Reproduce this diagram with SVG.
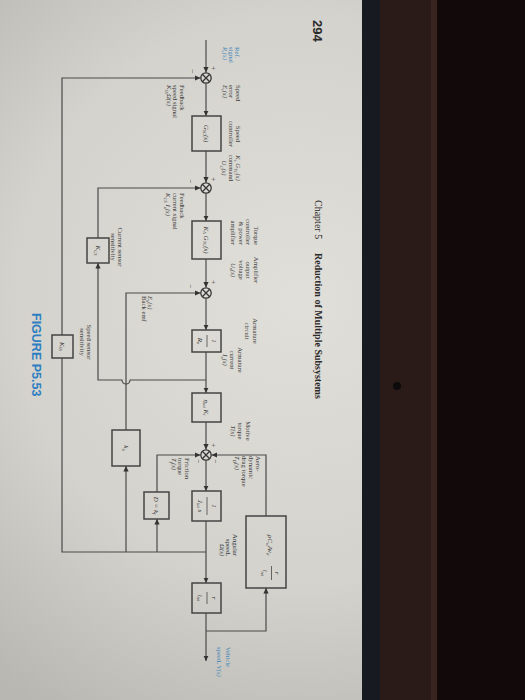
<svg xmlns="http://www.w3.org/2000/svg" width="525" height="700" viewBox="0 0 525 700">
<defs>
<radialGradient id="pg" cx="300" cy="300" r="480" gradientUnits="userSpaceOnUse">
<stop offset="0" stop-color="#e1dfda"/><stop offset="0.6" stop-color="#d4d2cc"/><stop offset="1" stop-color="#b9b7b1"/>
</radialGradient>
<marker id="ah" markerWidth="7" markerHeight="6" refX="5.5" refY="3" orient="auto" markerUnits="userSpaceOnUse"><path d="M0,0.4 L5.5,3 L0,5.6 z" fill="#333"/></marker>
<style>
.wire{fill:none;stroke:#4a4a4a;stroke-width:1.2}
.box{fill:none;stroke:#444;stroke-width:1.5}
.sum{fill:none;stroke:#363636;stroke-width:1.3}
.lbl{font-family:"Liberation Serif",serif;font-size:6.7px;fill:#3c3c3c}
.m{font-family:"Liberation Serif",serif;font-style:italic;font-size:7px;fill:#333}
.blue{fill:#3f86b8}
.sg{font-family:"Liberation Serif",serif;font-size:7.5px;fill:#333}
</style>
</defs>
<rect x="0" y="0" width="362" height="700" fill="url(#pg)"/>
<rect x="362" y="0" width="18" height="700" fill="#181a21"/>
<rect x="380" y="0" width="51" height="700" fill="#2a1b18"/>
<rect x="431" y="0" width="6" height="700" fill="#3a2420"/>
<rect x="437" y="0" width="88" height="700" fill="#120a0a"/>
<circle cx="397" cy="386" r="4" fill="#0c0a0a"/>

<g id="page-text">
<text transform="translate(312.5,20) rotate(90)" font-family="Liberation Sans,sans-serif" font-weight="bold" font-size="13" fill="#2a2a2a">294</text>
<text transform="translate(314.7,200) rotate(90)" font-family="Liberation Serif,serif" font-size="10" fill="#2a2a2a">Chapter 5</text>
<text transform="translate(314.7,253) rotate(90)" font-family="Liberation Serif,serif" font-weight="bold" font-size="10" fill="#2a2a2a">Reduction of Multiple Subsystems</text>
<text transform="translate(31.5,313) rotate(90)" font-family="Liberation Sans,sans-serif" font-weight="bold" font-size="12.5" fill="#2d7fc1">FIGURE P5.53</text>
</g>

<g id="connectors">
<path class="wire" d="M206,40 V72.5" marker-end="url(#ah)"/>
<path class="wire" d="M206,552 H62 V358"/>
<path class="wire" d="M62,335 V78 H200.5" marker-end="url(#ah)"/>
<path class="wire" d="M206,83.5 V116" marker-end="url(#ah)"/>
<path class="wire" d="M206,151 V182.5" marker-end="url(#ah)"/>
<path class="wire" d="M206,380 H130 a4,4 0 0 1 -8,0 H98 V263" marker-end="url(#ah)"/>
<path class="wire" d="M98,238 V188 H200.5" marker-end="url(#ah)"/>
<path class="wire" d="M206,193.5 V221" marker-end="url(#ah)"/>
<path class="wire" d="M206,259 V287.5" marker-end="url(#ah)"/>
<path class="wire" d="M126,552 V466" marker-end="url(#ah)"/>
<path class="wire" d="M126,430 V293 H200.5" marker-end="url(#ah)"/>
<path class="wire" d="M206,298.5 V330" marker-end="url(#ah)"/>
<path class="wire" d="M206,352 V393" marker-end="url(#ah)"/>
<path class="wire" d="M206,422 V449.5" marker-end="url(#ah)"/>
<path class="wire" d="M157,552 V519" marker-end="url(#ah)"/>
<path class="wire" d="M157,492 V455 H200.5" marker-end="url(#ah)"/>
<path class="wire" d="M206,460.5 V491" marker-end="url(#ah)"/>
<path class="wire" d="M206,521 V583" marker-end="url(#ah)"/>
<path class="wire" d="M206,613 V661" marker-end="url(#ah)"/>
<path class="wire" d="M206,631 H266 V588" marker-end="url(#ah)"/>
<path class="wire" d="M266,516 V455 H211.5" marker-end="url(#ah)"/>
</g>

<g id="sum1">
<circle class="sum" cx="206" cy="78" r="5.2"/><path class="sum" d="M202.3,74.3 L209.7,81.7 M209.7,74.3 L202.3,81.7"/>
<text class="sg" transform="translate(211,66) rotate(90)">+</text>
<text class="sg" transform="translate(190,69) rotate(90)">−</text>
</g>
<g id="sum2">
<circle class="sum" cx="206" cy="188" r="5.2"/><path class="sum" d="M202.3,184.3 L209.7,191.7 M209.7,184.3 L202.3,191.7"/>
<text class="sg" transform="translate(211,177) rotate(90)">+</text>
<text class="sg" transform="translate(188,179) rotate(90)">−</text>
</g>
<g id="sum3">
<circle class="sum" cx="206" cy="293" r="5.2"/><path class="sum" d="M202.3,289.3 L209.7,296.7 M209.7,289.3 L202.3,296.7"/>
<text class="sg" transform="translate(211,280) rotate(90)">+</text>
<text class="sg" transform="translate(188,284) rotate(90)">−</text>
</g>
<g id="sum4">
<circle class="sum" cx="206" cy="455" r="5.2"/><path class="sum" d="M202.3,451.3 L209.7,458.7 M209.7,451.3 L202.3,458.7"/>
<text class="sg" transform="translate(211,443) rotate(90)">+</text>
<text class="sg" transform="translate(196,459) rotate(90)">−</text>
<text class="sg" transform="translate(213,459) rotate(90)">−</text>
</g>

<g id="Gsc">
<rect class="box" x="192" y="116" width="29" height="35"/>
<text class="m" transform="translate(204.2,133.5) rotate(90)" text-anchor="middle">G<tspan font-size="4.5" dy="1.5">SC</tspan><tspan dy="-1.5">(s)</tspan></text>
</g>
<g id="KaGtc">
<rect class="box" x="192" y="221" width="29" height="38"/>
<text class="m" transform="translate(204.2,240) rotate(90)" text-anchor="middle">K<tspan font-size="4.5" dy="1.5">A</tspan><tspan dy="-1.5"> G</tspan><tspan font-size="4.5" dy="1.5">TC</tspan><tspan dy="-1.5">(s)</tspan></text>
</g>
<g id="Ra">
<rect class="box" x="192" y="330" width="29" height="22"/>
<text class="m" transform="translate(211.5,341) rotate(90)" text-anchor="middle" font-style="normal">1</text>
<line x1="207" y1="335" x2="207" y2="347" stroke="#333" stroke-width="0.7"/>
<text class="m" transform="translate(198,341) rotate(90)" text-anchor="middle">R<tspan font-size="4.5" dy="1.5">a</tspan></text>
</g>
<g id="etaKt">
<rect class="box" x="192" y="393" width="29" height="29"/>
<text class="m" transform="translate(204.2,407.5) rotate(90)" text-anchor="middle">η<tspan font-size="4.5" dy="1.5">tot</tspan><tspan dy="-1.5"> K</tspan><tspan font-size="4.5" dy="1.5">t</tspan></text>
</g>
<g id="Js">
<rect class="box" x="192" y="491" width="29" height="30"/>
<text class="m" transform="translate(211.5,506) rotate(90)" text-anchor="middle" font-style="normal">1</text>
<line x1="207" y1="497" x2="207" y2="515" stroke="#333" stroke-width="0.7"/>
<text class="m" transform="translate(198,506) rotate(90)" text-anchor="middle">J<tspan font-size="4.5" dy="1.5">tot</tspan><tspan dy="-1.5"> s</tspan></text>
</g>
<g id="rItot">
<rect class="box" x="192" y="583" width="29" height="30"/>
<text class="m" transform="translate(211.5,598) rotate(90)" text-anchor="middle">r</text>
<line x1="207" y1="592" x2="207" y2="604" stroke="#333" stroke-width="0.7"/>
<text class="m" transform="translate(198,598) rotate(90)" text-anchor="middle">i<tspan font-size="4.5" dy="1.5">tot</tspan></text>
</g>
<g id="aero">
<rect class="box" x="246" y="516" width="40" height="72"/>
<text class="m" transform="translate(267.5,545) rotate(90)" text-anchor="middle">ρC<tspan font-size="4.5" dy="1.5">w</tspan><tspan dy="-1.5">Av</tspan><tspan font-size="4.5" dy="1.5">0</tspan></text>
<text class="m" transform="translate(274.5,573) rotate(90)" text-anchor="middle">r</text>
<line x1="271.5" y1="566" x2="271.5" y2="580" stroke="#333" stroke-width="0.7"/>
<text class="m" transform="translate(262.5,573) rotate(90)" text-anchor="middle">i<tspan font-size="4.5" dy="1.5">tot</tspan></text>
</g>
<g id="Dkf">
<rect class="box" x="144" y="492" width="25" height="27"/>
<text class="m" transform="translate(154.3,505.5) rotate(90)" text-anchor="middle">D = k<tspan font-size="4.5" dy="1.5">f</tspan></text>
</g>
<g id="kb">
<rect class="box" x="112" y="430" width="28" height="36"/>
<text class="m" transform="translate(123.8,448) rotate(90)" text-anchor="middle">k<tspan font-size="4.5" dy="1.5">b</tspan></text>
</g>
<g id="Kcs">
<rect class="box" x="87" y="238" width="22" height="25"/>
<text class="m" transform="translate(95.8,250.5) rotate(90)" text-anchor="middle">K<tspan font-size="4.5" dy="1.5">CS</tspan></text>
</g>
<g id="Kss">
<rect class="box" x="52" y="335" width="21" height="23"/>
<text class="m" transform="translate(60.3,346.5) rotate(90)" text-anchor="middle">K<tspan font-size="4.5" dy="1.5">SS</tspan></text>
</g>

<g id="labels">
<text class="lbl blue" transform="translate(234.8,47) rotate(90)"><tspan x="0" y="0">Ref.</tspan><tspan x="0" y="6">signal</tspan><tspan x="0" y="12" font-style="italic">R<tspan font-size="4.5" dy="1.5">r</tspan><tspan dy="-1.5">(s)</tspan></tspan></text>
<text class="lbl" transform="translate(235.8,85) rotate(90)"><tspan x="0" y="0">Speed</tspan><tspan x="0" y="6.5">error</tspan><tspan x="0" y="13" font-style="italic">E<tspan font-size="4.5" dy="1.5">r</tspan><tspan dy="-1.5">(s)</tspan></tspan></text>
<text class="lbl" transform="translate(179.8,85) rotate(90)"><tspan x="0" y="0">Feedback</tspan><tspan x="0" y="6.5">speed signal</tspan><tspan x="0" y="13" font-style="italic">K<tspan font-size="4.5" dy="1.5">SS</tspan><tspan dy="-1.5">Ω(s)</tspan></tspan></text>
<text class="lbl" transform="translate(235.8,134) rotate(90)" text-anchor="middle"><tspan x="0" y="0">Speed</tspan><tspan x="0" y="7">controller</tspan></text>
<text class="lbl" transform="translate(235.8,168) rotate(90)" text-anchor="middle"><tspan x="0" y="0" font-style="italic">K<tspan font-size="4.5" dy="1.5">s</tspan><tspan dy="-1.5"> G</tspan><tspan font-size="4.5" dy="1.5">TC</tspan><tspan dy="-1.5">(s)</tspan></tspan><tspan x="0" y="7">command</tspan><tspan x="0" y="14" font-style="italic">U<tspan font-size="4.5" dy="1.5">C</tspan><tspan dy="-1.5">(s)</tspan></tspan></text>
<text class="lbl" transform="translate(179.8,193) rotate(90)"><tspan x="0" y="0">Feedback</tspan><tspan x="0" y="7">current signal</tspan><tspan x="0" y="14" font-style="italic">K<tspan font-size="4.5" dy="1.5">CS</tspan><tspan dy="-1.5"> I</tspan><tspan font-size="4.5" dy="1.5">a</tspan><tspan dy="-1.5">(s)</tspan></tspan></text>
<text class="lbl" transform="translate(253.8,245) rotate(90)" text-anchor="end"><tspan x="0" y="0">Torque</tspan><tspan x="0" y="7.6">controller</tspan><tspan x="0" y="15.2">&amp; power</tspan><tspan x="0" y="22.8">amplifier</tspan></text>
<text class="lbl" transform="translate(253.8,270) rotate(90)" text-anchor="middle"><tspan x="0" y="0">Amplifier</tspan><tspan x="0" y="7.6">output</tspan><tspan x="0" y="15.2">voltage</tspan><tspan x="0" y="22.8" font-style="italic">U<tspan font-size="4.5" dy="1.5">a</tspan><tspan dy="-1.5">(s)</tspan></tspan></text>
<text class="lbl" transform="translate(147.8,296) rotate(90)"><tspan x="0" y="0" font-style="italic">E<tspan font-size="4.5" dy="1.5">b</tspan><tspan dy="-1.5">(s)</tspan></tspan><tspan x="0" y="6">Back emf</tspan></text>
<text class="lbl" transform="translate(252.8,331) rotate(90)" text-anchor="middle"><tspan x="0" y="0">Armature</tspan><tspan x="0" y="7.5">circuit</tspan></text>
<text class="lbl" transform="translate(237.8,360) rotate(90)" text-anchor="middle"><tspan x="0" y="0">Armature</tspan><tspan x="0" y="7.5">current</tspan><tspan x="0" y="15" font-style="italic">I<tspan font-size="4.5" dy="1.5">a</tspan><tspan dy="-1.5">(s)</tspan></tspan></text>
<text class="lbl" transform="translate(245.8,431) rotate(90)" text-anchor="middle"><tspan x="0" y="0">Motive</tspan><tspan x="0" y="7.5">torque</tspan><tspan x="0" y="15" font-style="italic">T(s)</tspan></text>
<text class="lbl" transform="translate(255.8,456) rotate(90)"><tspan x="0" y="0">Aero-</tspan><tspan x="0" y="7">dynamic</tspan><tspan x="0" y="14">drag torque</tspan><tspan x="0" y="21" font-style="italic">T<tspan font-size="4.5" dy="1.5">D</tspan><tspan dy="-1.5">(s)</tspan></tspan></text>
<text class="lbl" transform="translate(184.8,458) rotate(90)"><tspan x="0" y="0">Friction</tspan><tspan x="0" y="6.5">torque</tspan><tspan x="0" y="13" font-style="italic">T<tspan font-size="4.5" dy="1.5">f</tspan><tspan dy="-1.5">(s)</tspan></tspan></text>
<text class="lbl" transform="translate(232.8,556) rotate(90)" text-anchor="end" style="fill:#2b3340"><tspan x="0" y="0">Angular</tspan><tspan x="0" y="6.5">speed,</tspan><tspan x="0" y="13" font-style="italic">Ω(s)</tspan></text>
<text class="lbl blue" transform="translate(225.8,647) rotate(90)"><tspan x="0" y="0">Vehicle</tspan><tspan x="0" y="8.5">speed, <tspan font-style="italic">V(s)</tspan></tspan></text>
<text class="lbl" transform="translate(86.8,342) rotate(90)" text-anchor="middle"><tspan x="0" y="0">Speed sensor</tspan><tspan x="0" y="7">sensitivity</tspan></text>
<text class="lbl" transform="translate(117.8,247) rotate(90)" text-anchor="middle"><tspan x="0" y="0">Current sensor</tspan><tspan x="0" y="7">sensitivity</tspan></text>
</g>
</svg>
